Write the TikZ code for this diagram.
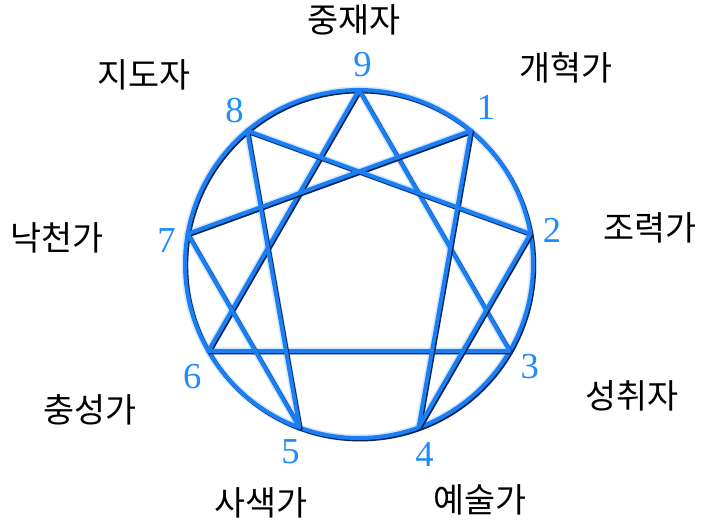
\documentclass[tikz,border=0pt]{standalone}
\usepackage{fontspec}
\newfontfamily\krfont{Noto Sans CJK KR}
\newfontfamily\numfont{Liberation Serif}
\usepackage{xcolor}
\definecolor{ennblue}{RGB}{26,126,245}
\definecolor{ennshade}{RGB}{14,36,80}
\definecolor{enndigit}{RGB}{30,140,250}

\begin{document}
\begin{tikzpicture}
    \def\R{4.35cm}
    \def\lw{0.1cm}
    \tikzset{
      glow/.style={color=ennblue!50, line width=0.18cm, opacity=0.35, line join=round},
      shade/.style={color=ennshade, line width=\lw, line join=round,
        transform canvas={shift={(0.03cm,-0.035cm)}}},
      main/.style={color=ennblue, line width=\lw, line join=round},
      num/.style={text=enndigit, inner sep=0pt, font=\numfont\fontsize{26}{28}\selectfont},
      role/.style={inner sep=0pt, font=\krfont\fontsize{24}{26}\selectfont}
    }
    % Frame of the picture
    \useasboundingbox (-8.975,6.6) rectangle (8.875,-6.55);
    % Points on the circle: 9 on top, then clockwise
    \foreach \k in {1,...,9}
      \coordinate (p\k) at ({90-40*\k}:\R);
    % Soft glow under all lines
    \draw[glow] (0,0) circle (\R);
    \draw[glow] (p9) -- (p3) -- (p6) -- cycle;
    \draw[glow] (p1) -- (p4) -- (p2) -- (p8) -- (p5) -- (p7) -- cycle;
    % Circle
    \draw[shade] (0,0) circle (\R);
    \draw[main] (0,0) circle (\R);
    % Triangle 9-3-6
    \draw[shade] (p9) -- (p3) -- (p6) -- cycle;
    \draw[main] (p9) -- (p3) -- (p6) -- cycle;
    % Hexad 1-4-2-8-5-7
    \draw[shade] (p1) -- (p4) -- (p2) -- (p8) -- (p5) -- (p7) -- cycle;
    \draw[main] (p1) -- (p4) -- (p2) -- (p8) -- (p5) -- (p7) -- cycle;
    % Numbers
    \foreach \k/\a/\r in {1/51/5.05, 2/10/4.9, 3/-31/4.98, 4/-71/5.03, 5/-110/5.0,
                          6/-146/5.03, 7/173/4.85, 8/129/4.95, 9/89/4.98}
      \node[num] (n\k) at (\a:\r) {\k};
    % Type names
    \node[role] (r9) at (-0.125, 6.1)  {중재자};
    \node[role] (r1) at (5.175, 4.9)   {개혁가};
    \node[role] (r2) at (7.275, 0.9)   {조력가};
    \node[role] (r3) at (6.825, -3.3)  {성취자};
    \node[role] (r4) at (3.025, -5.9)  {예술가};
    \node[role] (r5) at (-2.45, -5.975) {사색가};
    \node[role] (r6) at (-6.725, -3.65) {충성가};
    \node[role] (r7) at (-7.55, 0.65)  {낙천가};
    \node[role] (r8) at (-5.375, 4.725) {지도자};
\end{tikzpicture}
\end{document}
